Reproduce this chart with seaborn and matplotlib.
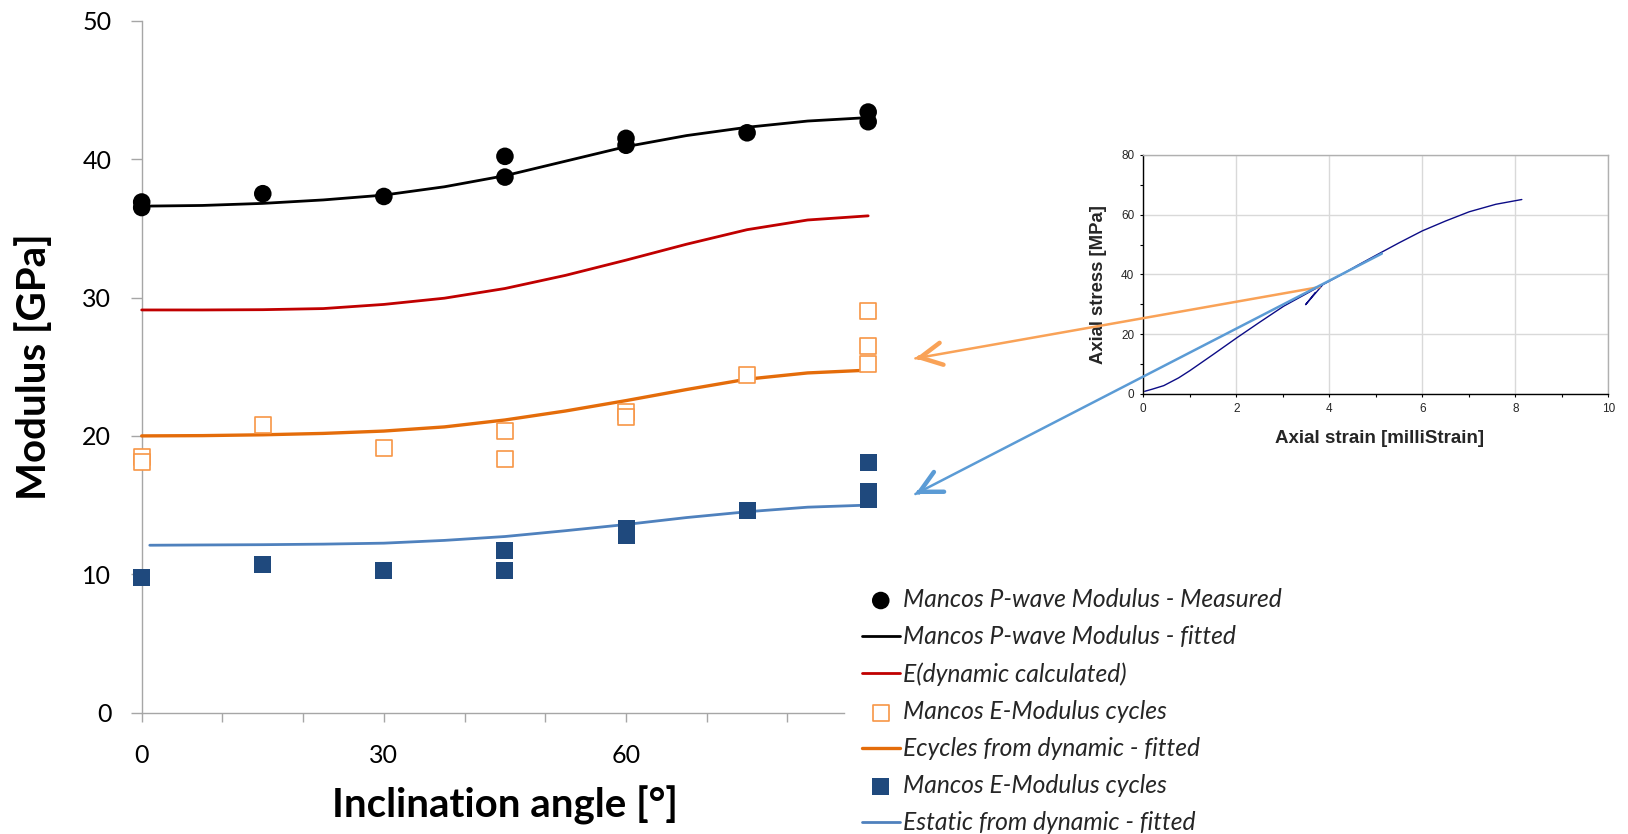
import numpy as np
import pandas as pd
import matplotlib
matplotlib.use("Agg")
import matplotlib.pyplot as plt
import seaborn as sns
from matplotlib.patches import ConnectionPatch, ArrowStyle
from matplotlib.ticker import FixedLocator, FuncFormatter

# ---------------- data: main chart ----------------
fit_angles = [0, 7.5, 15, 22.5, 30, 37.5, 45, 52.5, 60, 67.5, 75, 82.5, 90]
pwave_fit = [36.6, 36.65, 36.8, 37.05, 37.4, 38.0, 38.8, 39.85, 40.9, 41.7, 42.3, 42.75, 43.0]
edyn_fit = [29.1, 29.1, 29.12, 29.2, 29.5, 29.95, 30.65, 31.6, 32.7, 33.85, 34.9, 35.6, 35.9]
ecyc_fit = [20.0, 20.02, 20.08, 20.18, 20.35, 20.65, 21.15, 21.8, 22.55, 23.35, 24.1, 24.55, 24.75]
estat_angles = [1, 7.5, 15, 22.5, 30, 37.5, 45, 52.5, 60, 67.5, 75, 82.5, 90]
estat_fit = [12.1, 12.12, 12.14, 12.18, 12.25, 12.45, 12.73, 13.15, 13.6, 14.1, 14.52, 14.85, 15.0]

pw_angles = [0, 0, 15, 30, 45, 45, 60, 60, 75, 90, 90]
pw_vals = [36.9, 36.5, 37.5, 37.3, 40.2, 38.7, 41.5, 41.0, 41.9, 43.4, 42.7]

ecyc_angles = [0, 0, 15, 30, 45, 45, 60, 60, 75, 90, 90, 90]
ecyc_vals = [18.5, 18.1, 20.8, 19.15, 20.35, 18.35, 21.7, 21.4, 24.4, 29.0, 26.5, 25.2]

estat_pt_angles = [0, 15, 30, 45, 45, 60, 60, 75, 90, 90, 90]
estat_pt_vals = [9.76, 10.7, 10.25, 11.75, 10.3, 13.3, 12.8, 14.6, 18.05, 16.0, 15.4]

labels = [
    "Mancos P-wave Modulus - Measured",
    "Mancos P-wave Modulus - fitted",
    "E(dynamic calculated)",
    "Mancos E-Modulus cycles",
    "Ecycles from dynamic - fitted",
    "Mancos E-Modulus cycles",
    "Estatic from dynamic - fitted",
]

y_ticks = [0, 10, 20, 30, 40, 50]
x_ticks = [0, 10, 20, 30, 40, 50, 60, 70, 80]
x_labeled = [0, 30, 60]

# ---------------- data: inset (stress-strain) ----------------
strain_load = [0.03, 0.19, 0.44, 0.76, 1.0, 1.5, 2.01, 2.5, 3.02, 3.79, 4.23, 4.6, 5.13,
               5.5, 6.0, 6.5, 7.01, 7.58, 8.14]
stress_load = [0.9, 1.6, 2.8, 5.4, 7.8, 13.2, 18.8, 24.0, 29.4, 36.0, 39.7, 43.0, 47.5,
               50.6, 54.6, 57.9, 61.0, 63.5, 65.1]
strain_cycle = [3.85, 3.49, 3.7]
stress_cycle = [36.4, 29.9, 34.0]

# tangent lines: start on the curve (inset coords) -> arrow tip (main coords)
blue_tan_start = (5.13, 47.0)
blue_tan_tip = (95.85, 15.8)
orange_tan_start = (3.79, 35.8)
orange_tan_tip = (95.85, 25.6)

# ---------------- styling ----------------
sns.set_theme(style="white")
plt.rcParams["font.family"] = ["Lato", "DejaVu Sans"]

C_BLACK = "#000000"
C_RED = "#c00000"
C_ORANGE = "#e46c0a"
C_ORANGE_MK = "#f79646"
C_BLUE = "#4f81bd"
C_NAVY = "#1f497d"
C_GREY = "#a6a6a6"

fig = plt.figure(figsize=(16.28, 8.34), dpi=100)
ax = fig.add_axes([0.08704, 0.14544, 0.43136, 0.82974])

# Main chart series (markers above lines)
sns.scatterplot(x=pw_angles, y=pw_vals, ax=ax, marker="o", s=160, color=C_BLACK,
                edgecolor="none", clip_on=False, zorder=5, label=labels[0])
sns.lineplot(x=fit_angles, y=pwave_fit, ax=ax, color=C_BLACK, lw=2.0,
             clip_on=False, zorder=3, label=labels[1])
sns.lineplot(x=fit_angles, y=edyn_fit, ax=ax, color=C_RED, lw=2.0,
             clip_on=False, zorder=3, label=labels[2])
sns.scatterplot(x=ecyc_angles, y=ecyc_vals, ax=ax, marker="s", s=140, color="white",
                edgecolor=C_ORANGE_MK, linewidth=1.2, clip_on=False, zorder=5, label=labels[3])
sns.lineplot(x=fit_angles, y=ecyc_fit, ax=ax, color=C_ORANGE, lw=2.4,
             clip_on=False, zorder=3, label=labels[4])
sns.scatterplot(x=estat_pt_angles, y=estat_pt_vals, ax=ax, marker="s", s=150, color=C_NAVY,
                edgecolor="none", clip_on=False, zorder=5, label=labels[5])
sns.lineplot(x=estat_angles, y=estat_fit, ax=ax, color=C_BLUE, lw=2.0,
             clip_on=False, zorder=3, label=labels[6])

ax.set_xlim(0, 87)
ax.set_ylim(0, 50)
for side in ["top", "right"]:
    ax.spines[side].set_visible(False)
for side in ["left", "bottom"]:
    ax.spines[side].set_color(C_GREY)
    ax.spines[side].set_linewidth(1.0)

ax.yaxis.set_major_locator(FixedLocator(y_ticks))
ax.xaxis.set_major_locator(FixedLocator(x_ticks))
ax.xaxis.set_major_formatter(FuncFormatter(lambda v, p: f"{v:.0f}" if round(v) in x_labeled else ""))
ax.tick_params(axis="y", direction="out", length=7.9, width=1.0, color=C_GREY,
               pad=14.0, labelsize=18, labelcolor="black", left=True)
ax.tick_params(axis="x", direction="out", length=6.5, width=1.0, color=C_GREY,
               pad=16, labelsize=18, labelcolor="black", bottom=True)

ax.set_xlabel("Inclination angle [°]", fontsize=29, fontweight="bold", color="black")
ax.set_ylabel("Modulus [GPa]", fontsize=29, fontweight="bold", color="black")
ax.xaxis.set_label_coords(0.517, -0.1334)
ax.xaxis.label.set_va("center")
ax.yaxis.set_label_coords(-0.1533, 0.4996)
ax.yaxis.label.set_va("center")

# Legend in figure coordinates
handles, labs = ax.get_legend_handles_labels()
if ax.get_legend() is not None:
    ax.get_legend().remove()
fig.legend(handles, labs, loc="upper left", bbox_to_anchor=(0.5293, 0.2950),
           frameon=False, borderpad=0, borderaxespad=0, handlelength=1.55,
           handletextpad=0.14, labelspacing=0.575,
           prop={"family": ["Lato", "DejaVu Sans"], "style": "italic", "size": 17.7})

# ---------------- inset ----------------
ax2 = fig.add_axes([0.70227, 0.52758, 0.28563, 0.28657])
sns.lineplot(x=strain_load, y=stress_load, ax=ax2, color="#0c0c86", lw=1.0, sort=False)
sns.lineplot(x=strain_cycle, y=stress_cycle, ax=ax2, color="#0c0c86", lw=1.0, sort=False)
ax2.set_xlim(0, 10)
ax2.set_ylim(0, 80)
ax2.set_xticks([0, 2, 4, 6, 8, 10])
ax2.set_yticks([0, 20, 40, 60, 80])
ax2.set_xticks([1, 3, 5, 7, 9], minor=True)
ax2.set_yticks([10, 30, 50, 70], minor=True)
ax2.grid(True, which="major", color="#d9d9d9", lw=1.0)
ax2.set_axisbelow(True)
for side in ["top", "right"]:
    ax2.spines[side].set_color("#b0b0b0")
    ax2.spines[side].set_linewidth(1.0)
for side in ["left", "bottom"]:
    ax2.spines[side].set_color("black")
    ax2.spines[side].set_linewidth(1.0)
ax2.tick_params(which="both", direction="out", length=2.5, width=0.8, color="black",
                labelsize=8.5, pad=4, left=True, bottom=True)
for lab in ax2.get_xticklabels() + ax2.get_yticklabels():
    lab.set_family(["Liberation Sans", "DejaVu Sans"])
ax2.set_xlabel("Axial strain [milliStrain]", fontsize=13.5, fontweight="bold",
               family=["Liberation Sans", "DejaVu Sans"])
ax2.set_ylabel("Axial stress [MPa]", fontsize=13.3, fontweight="bold",
               family=["Liberation Sans", "DejaVu Sans"])
ax2.xaxis.set_label_coords(0.507, -0.188)
ax2.xaxis.label.set_va("center")
ax2.yaxis.set_label_coords(-0.0974, 0.456)
ax2.yaxis.label.set_va("center")

# ---------------- tangent lines with open arrow heads ----------------
fig.canvas.draw()
for start, tip, col in [(orange_tan_start, orange_tan_tip, "#f9a257"),
                        (blue_tan_start, blue_tan_tip, "#5b9bd5")]:
    line = ConnectionPatch(xyA=start, coordsA=ax2.transData, xyB=tip, coordsB=ax.transData,
                           arrowstyle="-", color=col, lw=1.8, shrinkA=0, shrinkB=0, zorder=10)
    fig.add_artist(line)
    p0 = ax2.transData.transform(start)
    p1 = ax.transData.transform(tip)
    dist_pt = np.hypot(*(p1 - p0)) * 72.0 / fig.dpi
    head = ConnectionPatch(xyA=start, coordsA=ax2.transData, xyB=tip, coordsB=ax.transData,
                           arrowstyle=ArrowStyle("->", head_length=0.78, head_width=0.4),
                           mutation_scale=20, color=col, lw=3.2, capstyle="round",
                           shrinkA=dist_pt - 3, shrinkB=0, zorder=11)
    fig.add_artist(head)

fig.savefig("out.png", dpi=100)
